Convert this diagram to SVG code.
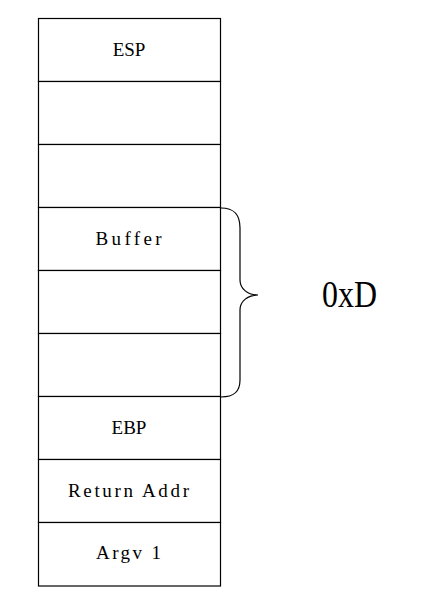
<svg xmlns="http://www.w3.org/2000/svg" width="421" height="605" viewBox="0 0 421 605">
<style>
.cell{fill:#fff;stroke:#000;stroke-width:1.2}
.lbl{font-family:"Liberation Serif","DejaVu Serif",serif;font-size:19px;fill:#000;text-anchor:middle}
.brace{fill:none;stroke:#000;stroke-width:1.2}
</style>
<rect width="421" height="605" fill="#fff"/>
<g id="stack">
<g id="cell-esp"><rect class="cell" x="38.5" y="18.5" width="182" height="63"/><text class="lbl" x="129" y="56">ESP</text></g>
<g id="cell-2"><rect class="cell" x="38.5" y="81.5" width="182" height="63"/></g>
<g id="cell-3"><rect class="cell" x="38.5" y="144.5" width="182" height="63"/></g>
<g id="cell-buffer"><rect class="cell" x="38.5" y="207.5" width="182" height="63"/><text class="lbl" x="128.5" y="245" textLength="66" lengthAdjust="spacing">Buffer</text></g>
<g id="cell-5"><rect class="cell" x="38.5" y="270.5" width="182" height="63"/></g>
<g id="cell-6"><rect class="cell" x="38.5" y="333.5" width="182" height="63"/></g>
<g id="cell-ebp"><rect class="cell" x="38.5" y="396.5" width="182" height="63"/><text class="lbl" x="129" y="434">EBP</text></g>
<g id="cell-ret"><rect class="cell" x="38.5" y="459.5" width="182" height="63"/><text class="lbl" x="128.5" y="497" textLength="121" lengthAdjust="spacing">Return Addr</text></g>
<g id="cell-argv"><rect class="cell" x="38.5" y="522.5" width="182" height="63.5"/><text class="lbl" x="128.5" y="559" textLength="65" lengthAdjust="spacing">Argv 1</text></g>
</g>
<g id="connectors">
<path class="brace" d="M221,208 C234,208 240,214 240,228 L240,280 C240,289 248,295 258,295 C248,295 240,301 240,310 L240,380 C240,392 234,397 221,397"/>
</g>
<g id="label-size">
<text x="349.5" y="307" font-family="Liberation Serif,DejaVu Serif,serif" font-size="37" text-anchor="middle" textLength="55" lengthAdjust="spacingAndGlyphs">0xD</text>
</g>
</svg>
